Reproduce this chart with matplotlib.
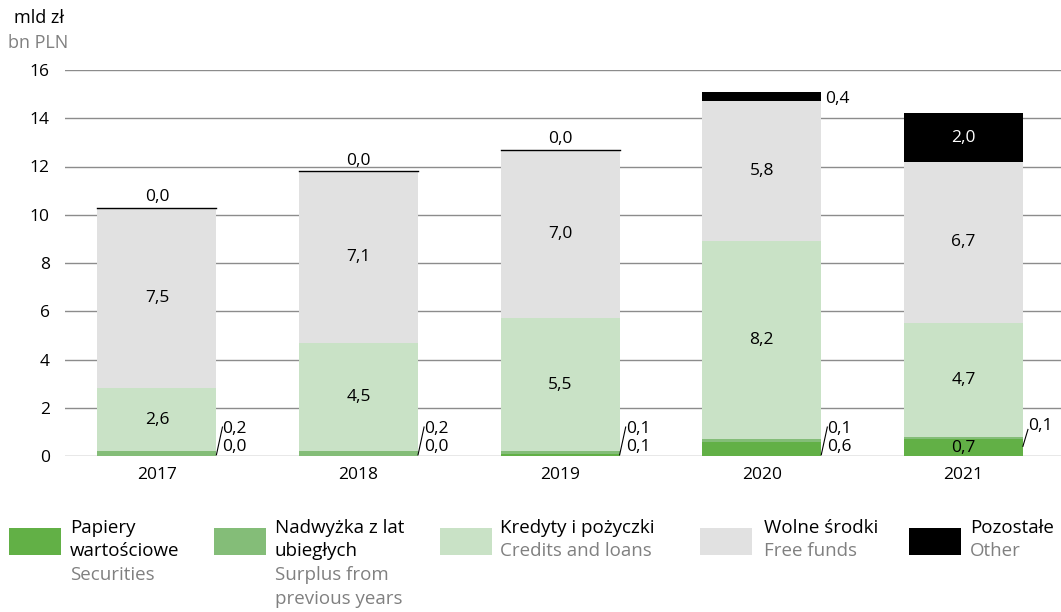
import numpy as np
import matplotlib
matplotlib.use('Agg')
from matplotlib import pyplot as plt
from matplotlib.patches import Rectangle

plt.rcParams['font.family'] = ['Open Sans', 'DejaVu Sans']

years = ['2017', '2018', '2019', '2020', '2021']
securities = [0.0, 0.0, 0.1, 0.6, 0.7]
surplus = [0.2, 0.2, 0.1, 0.1, 0.1]
credits = [2.6, 4.5, 5.5, 8.2, 4.7]
free_funds = [7.5, 7.1, 7.0, 5.8, 6.7]
other = [0.0, 0.0, 0.0, 0.4, 2.0]

c_sec = '#62b046'
c_sur = '#84bd78'
c_cred = '#c9e2c6'
c_free = '#e1e1e1'
c_oth = '#000000'
grey_txt = '#808080'

W, H = 1061, 612
fig = plt.figure(figsize=(W / 100, H / 100), dpi=100)
ax = fig.add_axes([65 / W, (H - 456) / H, 1 - 65 / W, (456 - 70) / H])

x = np.arange(len(years))
w = 0.59
sec = np.array(securities)
sur = np.array(surplus)
cred = np.array(credits)
free = np.array(free_funds)
oth = np.array(other)

b1 = sec
b2 = b1 + sur
b3 = b2 + cred
b4 = b3 + free

ax.bar(x, sec, w, color=c_sec, zorder=3)
ax.bar(x, sur, w, bottom=b1, color=c_sur, zorder=3)
ax.bar(x, cred, w, bottom=b2, color=c_cred, zorder=3)
ax.bar(x, free, w, bottom=b3, color=c_free, zorder=3)
ax.bar(x, oth, w, bottom=b4, color=c_oth, zorder=3)
# zero "other" still shows as a thin line on top
for i in range(len(x)):
    if oth[i] == 0:
        ax.plot([x[i] - w / 2, x[i] + w / 2], [b4[i], b4[i]], color='black', lw=1, zorder=4)

def fmt(v):
    return ('%.1f' % v).replace('.', ',')

fs = 12.5
for i in range(len(x)):
    ax.text(x[i], b2[i] + cred[i] / 2, fmt(cred[i]), ha='center', va='center', fontsize=fs, zorder=5)
    ax.text(x[i], b3[i] + free[i] / 2, fmt(free[i]), ha='center', va='center', fontsize=fs, zorder=5)
    if oth[i] >= 1:
        ax.text(x[i], b4[i] + oth[i] / 2, fmt(oth[i]), ha='center', va='center', fontsize=fs,
                color='white', zorder=5)
    elif oth[i] > 0:
        ax.text(x[i] + w / 2 + 0.02, b4[i] + oth[i] / 2 - 0.1, fmt(oth[i]), ha='left', va='center',
                fontsize=fs, zorder=5)
    else:
        ax.text(x[i], b4[i] + 0.1, fmt(oth[i]), ha='center', va='bottom', fontsize=fs, zorder=5)

    xr = x[i] + w / 2
    if sec[i] >= 0.7:
        ax.text(x[i], sec[i] / 2, fmt(sec[i]), ha='center', va='center', fontsize=fs, zorder=5)
        ax.plot([xr, xr + 0.025], [0.4, 1.1], color='black', lw=0.8, zorder=5)
        ax.text(xr + 0.028, 1.25, fmt(sur[i]), ha='left', va='center', fontsize=fs, zorder=5)
    else:
        ax.plot([xr, xr + 0.03], [0.05, 1.2], color='black', lw=0.8, zorder=5)
        ax.text(xr + 0.03, 1.1, fmt(sur[i]), ha='left', va='center', fontsize=fs, zorder=5)
        ax.text(xr + 0.03, 0.38, fmt(sec[i]), ha='left', va='center', fontsize=fs, zorder=5)

ax.set_xlim(-0.456, 4.484)
ax.set_ylim(0, 16)
ax.set_yticks(range(0, 17, 2))
ax.set_xticks(x)
ax.set_xticklabels(years)
ax.yaxis.grid(True, color='#8c8c8c', lw=1)
ax.set_axisbelow(True)
for s in ax.spines.values():
    s.set_visible(False)
ax.tick_params(axis='both', length=0, labelsize=fs)
ax.tick_params(axis='y', pad=11)
ax.tick_params(axis='x', pad=8)

fs_leg = 13.5
fig.text(14 / W, 1 - 18 / H, 'mld zł', fontsize=13, va='center', ha='left')
fig.text(8 / W, 1 - 43 / H, 'bn PLN', fontsize=13, va='center', ha='left', color=grey_txt)

# legend
entries = [
    (9, 70, c_sec, ['Papiery', 'wartościowe'], ['Securities']),
    (214, 275, c_sur, ['Nadwyżka z lat', 'ubiegłych'], ['Surplus from', 'previous years']),
    (440, 500, c_cred, ['Kredyty i pożyczki'], ['Credits and loans']),
    (700, 764, c_free, ['Wolne środki'], ['Free funds']),
    (909, 970, c_oth, ['Pozostałe'], ['Other']),
]
line_y = [528, 551, 575, 599]
for px, tx, col, pl, en in entries:
    fig.add_artist(Rectangle((px / W, 1 - 555 / H), 52 / W, 27 / H, transform=fig.transFigure,
                             facecolor=col, edgecolor='none'))
    k = 0
    for t in pl:
        fig.text(tx / W, 1 - line_y[k] / H, t, fontsize=fs_leg, va='center', ha='left')
        k += 1
    for t in en:
        fig.text(tx / W, 1 - line_y[k] / H, t, fontsize=fs_leg, va='center', ha='left', color=grey_txt)
        k += 1

fig.savefig('out.png', dpi=100)
